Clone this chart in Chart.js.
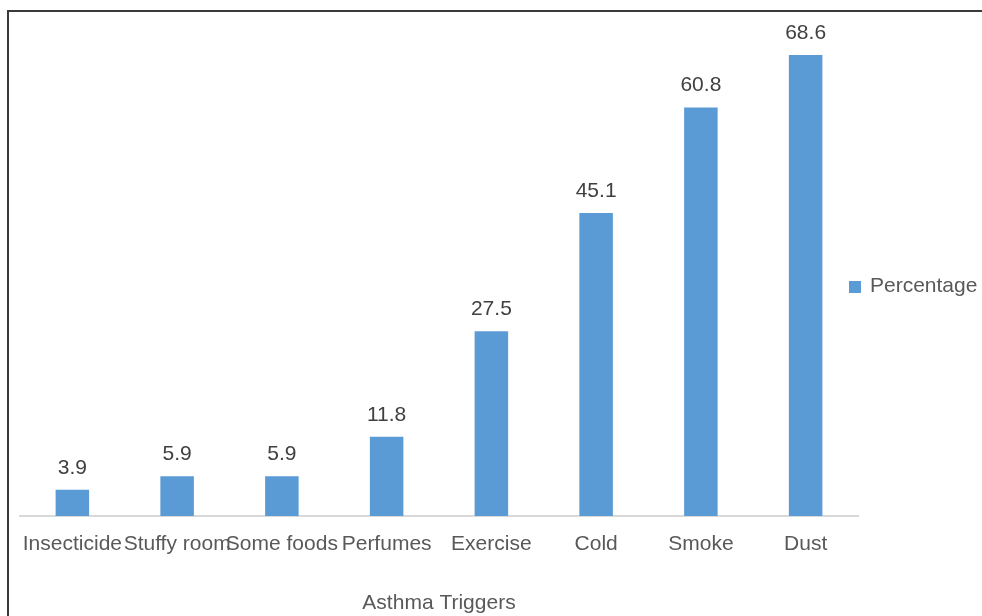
<!DOCTYPE html>
<html>
<head>
<meta charset="utf-8">
<script src="https://cdn.jsdelivr.net/npm/chart.js@4.4.1/dist/chart.umd.min.js"></script>
<style>
    html, body { margin: 0; padding: 0; background: #fff; }
    #wrap { position: relative; width: 982px; height: 616px; overflow: hidden; }
    #frame {
        position: absolute; left: 7px; top: 10px; width: 990px; height: 620px;
        border-left: 2px solid #3a3a3a; border-top: 2px solid #3a3a3a;
        pointer-events: none;
    }
    #legend {
        position: absolute; left: 849px; top: 273px;
        font: 21px "Liberation Sans", Arial, sans-serif; color: #595959;
        line-height: 24px; white-space: nowrap;
    }
    #legend .box {
        position: absolute; left: 0; top: 8px; width: 12px; height: 12px;
    }
    #legend .txt { position: absolute; left: 21px; top: 0; }
</style>
</head>
<body>
<div id="wrap">
    <canvas id="myChart" width="982" height="616"></canvas>
    <div id="frame"></div>
    <div id="legend"><span class="box"></span><span class="txt"></span></div>
</div>
<script>
const categories = ["Insecticide", "Stuffy room", "Some foods", "Perfumes", "Exercise", "Cold", "Smoke", "Dust"];
const percentage = [3.9, 5.9, 5.9, 11.8, 27.5, 45.1, 60.8, 68.6];
const seriesName = "Percentage";
const axisTitle = "Asthma Triggers";

const barColor = "#5B9BD5";
const fontFamily = '"Liberation Sans", Arial, sans-serif';

// legend 做成 html
document.querySelector("#legend .box").style.background = barColor;
document.querySelector("#legend .txt").textContent = seriesName;

// 柱子上方的數值
const valueLabels = {
    id: "valueLabels",
    afterDatasetsDraw(chart) {
        const c = chart.ctx;
        const meta = chart.getDatasetMeta(0);
        c.save();
        c.font = "21px " + fontFamily;
        c.fillStyle = "#404040";
        c.textAlign = "center";
        c.textBaseline = "alphabetic";
        meta.data.forEach((bar, i) => {
            c.fillText(percentage[i].toFixed(1), bar.x, bar.y - 16);
        });
        c.restore();
    }
};

const ctx = document.getElementById("myChart");

new Chart(ctx, {
    type: "bar",
    data: {
        labels: categories,
        datasets: [{
            label: seriesName,
            data: percentage,
            backgroundColor: barColor,
            categoryPercentage: 1,
            barPercentage: 0.32
        }]
    },
    options: {
        responsive: false,
        animation: false,
        layout: {
            padding: { left: 20, right: 124, top: 12, bottom: 0 }
        },
        plugins: {
            legend: { display: false },
            tooltip: { enabled: false }
        },
        scales: {
            x: {
                grid: { display: false, drawTicks: false },
                border: { display: true, color: "#d9d9d9", width: 2 },
                ticks: {
                    padding: 16,
                    maxRotation: 0,
                    minRotation: 0,
                    autoSkip: false,
                    color: "#595959",
                    font: { family: fontFamily, size: 21 }
                },
                title: {
                    display: true,
                    text: axisTitle,
                    color: "#595959",
                    font: { family: fontFamily, size: 21 },
                    padding: { top: 0, bottom: 0 }
                },
                afterFit(scale) {
                    scale.height = 100;
                    scale.paddingLeft = 0;
                    scale.paddingRight = 0;
                }
            },
            y: {
                display: false,
                min: 0,
                max: 75
            }
        }
    },
    plugins: [valueLabels]
});
</script>
</body>
</html>
